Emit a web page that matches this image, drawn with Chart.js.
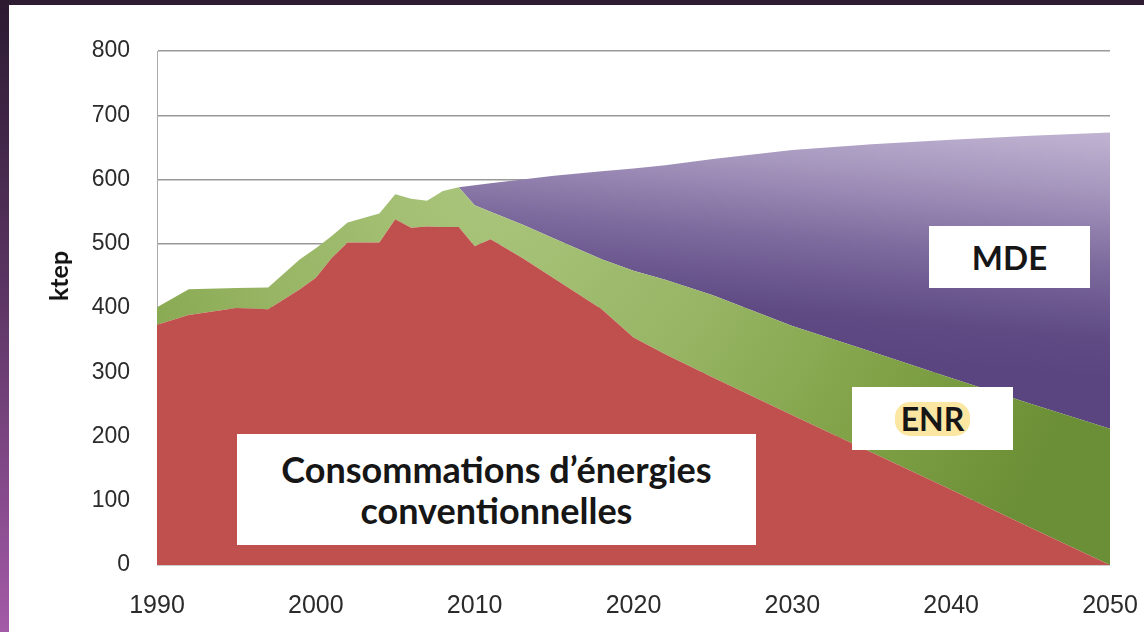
<!DOCTYPE html>
<html lang="fr">
<head>
<meta charset="utf-8">
<title>Consommations d'énergie – ktep</title>
<script src="https://cdn.jsdelivr.net/npm/chart.js@4.4.1/dist/chart.umd.min.js"></script>
<style>
  html,body{margin:0;padding:0;}
  body{width:1144px;height:632px;position:relative;overflow:hidden;background:#fff;font-family:Lato,"Noto Sans",sans-serif;}
  #topband{position:absolute;left:0;top:0;width:1144px;height:5px;background:#2e1c32;}
  #leftband{position:absolute;left:0;top:0;width:9px;height:632px;background:linear-gradient(#2c1a31,#5a3462 45%,#a35aa7);}
  #c{position:absolute;left:0;top:0;}
  .box{position:absolute;background:#fff;color:#161616;font-weight:700;display:flex;align-items:center;justify-content:center;text-align:center;}
  #conv{left:237px;top:434px;width:519px;height:111px;font-size:36px;line-height:41px;}
  #mde{left:929px;top:226px;width:161px;height:62px;font-size:33px;}
  #enr{left:852px;top:387px;width:161px;height:63px;font-size:32px;}
  #enr span{background:#fbe6a2;border-radius:15px;padding:0 6px;line-height:34px;}
  #ytitle{position:absolute;left:58px;top:276px;transform:translate(-50%,-50%) rotate(-90deg);font-weight:700;font-size:25px;color:#111;}
</style>
</head>
<body>
<div id="topband"></div>
<div id="leftband"></div>
<canvas id="c" width="1144" height="632"></canvas>
<div id="ytitle">ktep</div>
<div class="box" id="conv">Consommations d’énergies<br>conventionnelles</div>
<div class="box" id="mde">MDE</div>
<div class="box" id="enr"><span>ENR</span></div>
<script>
/* ---------- données (ktep) ---------- */
const years = [1990,1992,1995,1997,1999,2000,2001,2002,2004,2005,2006,2007,2008,2009,
               2010,2011,2013,2015,2018,2020,2022,2025,2030,2035,2040,2045,2050];
const conv  = [374,389,400,398,429,447,478,502,502,538,525,527,526,526,
               496,507,478,446,398,354,328,292,233,175,117,58,0];
const enr   = [27,40,31,34,47,46,34,31,45,39,45,40,56,62,
               64,43,52,62,78,104,116,128,139,157,174,193,212];
const mde   = [0,0,0,0,0,0,0,0,0,0,0,0,0,0,
               31,44,70,98,137,159,178,212,274,323,371,417,461];
const yTicks = [0,100,200,300,400,500,600,700,800];
const xTicks = [1990,2000,2010,2020,2030,2040,2050];

const pts = arr => years.map((yr,i)=>({x:yr,y:arr[i]}));

/* ---------- dégradés ---------- */
const greenFill = c => {
  const ch = c.chart;
  if(!ch.chartArea) return '#8fb05a';
  const x0 = ch.scales.x.getPixelForValue(2011), y0 = ch.scales.y.getPixelForValue(600);
  const g = ch.ctx.createRadialGradient(x0,y0,0,x0,y0,620);
  g.addColorStop(0,'#aac67d');
  g.addColorStop(0.4,'#97b564');
  g.addColorStop(0.72,'#80a146');
  g.addColorStop(1,'#6b8f36');
  return g;
};
const purpleFill = c => {
  const ch = c.chart;
  if(!ch.chartArea) return '#8064a2';
  const xs = ch.scales.x, ys = ch.scales.y;
  const g = ch.ctx.createLinearGradient(xs.getPixelForValue(2050),ys.getPixelForValue(710),
                                        xs.getPixelForValue(2048.5),ys.getPixelForValue(290));
  g.addColorStop(0,'#cbc0da');
  g.addColorStop(0.3,'#a697be');
  g.addColorStop(0.6,'#7a679b');
  g.addColorStop(0.85,'#5f4a84');
  g.addColorStop(1,'#5b4580');
  return g;
};

/* ---------- graphique ---------- */
new Chart(document.getElementById('c'), {
  type:'line',
  data:{
    datasets:[
      {label:'Consommations d’énergies conventionnelles', data:pts(conv), fill:'origin',
       backgroundColor:'#c0504d', borderWidth:0, pointRadius:0, tension:0},
      {label:'ENR', data:pts(enr), fill:'-1',
       backgroundColor:greenFill, borderWidth:0, pointRadius:0, tension:0},
      {label:'MDE', data:pts(mde), fill:'-1',
       backgroundColor:purpleFill, borderWidth:0, pointRadius:0, tension:0}
    ]
  },
  options:{
    responsive:false, animation:false,
    layout:{padding:{left:0,top:51,right:34,bottom:0}},
    plugins:{legend:{display:false}, tooltip:{enabled:false}},
    scales:{
      x:{
        type:'linear', min:1990, max:2050,
        afterBuildTicks:s=>{s.ticks = xTicks.map(v=>({value:v}));},
        afterFit:s=>{s.height = 67; s.paddingLeft = 0; s.paddingRight = 0;},
        grid:{display:false, drawTicks:false},
        border:{display:false},
        ticks:{padding:26, color:'#2b2b2b', font:{family:'Liberation Sans', size:25}, maxRotation:0,
               callback:v=>String(v)}
      },
      y:{
        stacked:true, min:0, max:800,
        afterBuildTicks:s=>{s.ticks = yTicks.map(v=>({value:v}));},
        afterFit:s=>{s.width = 157;},
        grid:{color:'#999', lineWidth:1.5, drawTicks:false},
        border:{display:true, color:'#aaa', width:1},
        ticks:{padding:27, color:'#2b2b2b', font:{family:'Liberation Sans', size:23}}
      }
    }
  }
});
</script>
</body>
</html>
